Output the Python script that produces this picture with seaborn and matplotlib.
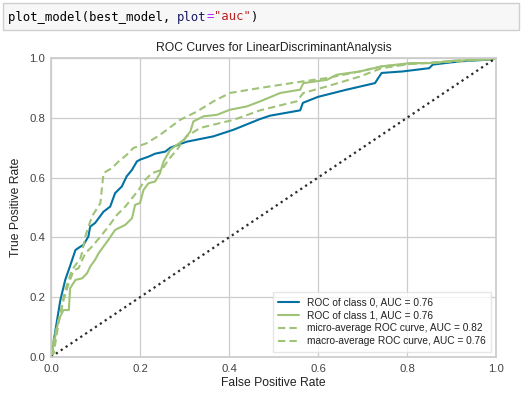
import numpy as np
import pandas as pd
import seaborn as sns
import matplotlib.pyplot as plt
from matplotlib.patches import Rectangle

# ROC curve points (false positive rate, true positive rate)
class0_fpr = [0.0, 0.002, 0.01, 0.021, 0.032, 0.043, 0.055, 0.066, 0.073, 0.084, 0.088, 0.099,
              0.118, 0.133, 0.144, 0.159, 0.17, 0.182, 0.193, 0.2, 0.219, 0.234, 0.257, 0.268,
              0.305, 0.365, 0.41, 0.47, 0.492, 0.56, 0.566, 0.6, 0.664, 0.728, 0.743, 0.79,
              0.85, 0.858, 0.92, 0.99, 1.0]
class0_tpr = [0.0, 0.013, 0.09, 0.19, 0.258, 0.305, 0.358, 0.369, 0.375, 0.403, 0.436, 0.448,
              0.486, 0.503, 0.548, 0.57, 0.604, 0.626, 0.654, 0.66, 0.67, 0.68, 0.687, 0.70,
              0.72, 0.738, 0.76, 0.796, 0.807, 0.825, 0.85, 0.87, 0.894, 0.916, 0.95, 0.955,
              0.966, 0.978, 0.989, 0.995, 1.0]

class1_fpr = [0.0, 0.002, 0.017, 0.028, 0.04, 0.043, 0.055, 0.07, 0.081, 0.088, 0.099, 0.107,
              0.129, 0.144, 0.167, 0.182, 0.189, 0.2, 0.208, 0.219, 0.234, 0.245, 0.253, 0.268,
              0.298, 0.313, 0.32, 0.343, 0.373, 0.402, 0.44, 0.47, 0.515, 0.56, 0.567, 0.62,
              0.642, 0.694, 0.743, 0.807, 0.859, 0.904, 0.993, 1.0]
class1_tpr = [0.0, 0.013, 0.124, 0.157, 0.157, 0.23, 0.258, 0.263, 0.28, 0.302, 0.325, 0.347,
              0.392, 0.425, 0.442, 0.464, 0.509, 0.515, 0.559, 0.581, 0.587, 0.615, 0.654, 0.693,
              0.726, 0.754, 0.788, 0.805, 0.81, 0.827, 0.838, 0.855, 0.883, 0.894, 0.916, 0.927,
              0.944, 0.955, 0.972, 0.983, 0.983, 0.991, 0.995, 1.0]

micro_fpr = [0.0, 0.006, 0.021, 0.032, 0.047, 0.066, 0.07, 0.077, 0.092, 0.111, 0.118, 0.137,
             0.152, 0.17, 0.185, 0.215, 0.245, 0.29, 0.328, 0.365, 0.402, 0.47, 0.567, 0.62,
             0.694, 0.743, 0.807, 0.92, 1.0]
micro_tpr = [0.0, 0.057, 0.146, 0.224, 0.291, 0.33, 0.35, 0.403, 0.47, 0.515, 0.615, 0.632,
             0.654, 0.676, 0.699, 0.715, 0.743, 0.793, 0.821, 0.855, 0.883, 0.90, 0.922, 0.933,
             0.955, 0.972, 0.98, 0.989, 1.0]

macro_fpr = [0.0, 0.006, 0.017, 0.028, 0.04, 0.051, 0.062, 0.077, 0.092, 0.114, 0.129, 0.148,
             0.167, 0.182, 0.197, 0.212, 0.227, 0.249, 0.264, 0.283, 0.305, 0.335, 0.365, 0.41,
             0.47, 0.552, 0.567, 0.62, 0.694, 0.743, 0.807, 1.0]
macro_tpr = [0.0, 0.012, 0.113, 0.19, 0.247, 0.29, 0.297, 0.347, 0.369, 0.408, 0.436, 0.475,
             0.503, 0.531, 0.559, 0.593, 0.615, 0.626, 0.66, 0.693, 0.738, 0.766, 0.777, 0.793,
             0.825, 0.855, 0.883, 0.905, 0.938, 0.966, 0.98, 1.0]

curve_names = ["ROC of class 0, AUC = 0.76", "ROC of class 1, AUC = 0.76",
               "micro-average ROC curve, AUC = 0.82", "macro-average ROC curve, AUC = 0.76"]

rows = []
for name, fpr, tpr in zip(curve_names, [class0_fpr, class1_fpr, micro_fpr, macro_fpr],
                          [class0_tpr, class1_tpr, micro_tpr, macro_tpr]):
    for a, b in zip(fpr, tpr):
        rows.append({"curve": name, "fpr": a, "tpr": b})
df = pd.DataFrame(rows)

sns.set_theme(style="whitegrid")
plt.rcParams["font.family"] = ["Liberation Sans", "DejaVu Sans"]

W, H = 521, 399
fig = plt.figure(figsize=(W / 100, H / 100), dpi=100)

# notebook code cell above the chart
fig.patches.append(Rectangle((3 / W, 1 - 30 / H), 516 / W, 27 / H, transform=fig.transFigure,
                             facecolor="#f7f7f7", edgecolor="#cfcfcf", linewidth=1))
code_parts = [("plot_model(best_model, ", "#000000"), ("plot", "#1a1a60"), ("=", "#aa22ff"),
              ("\"auc\"", "#ba2121"), (")", "#000000")]
cx = 8
for txt, col in code_parts:
    fig.text(cx / W, 1 - 17 / H, txt, family="DejaVu Sans Mono", fontsize=8.8, color=col,
             va="center", ha="left")
    cx += len(txt) * 7.35

ax = fig.add_axes([51 / W, 1 - 357 / H, 445 / W, 299 / H])
palette = {curve_names[0]: "#0272a2", curve_names[1]: "#9fc377",
           curve_names[2]: "#9fc377", curve_names[3]: "#9fc377"}
dashes = {curve_names[0]: "", curve_names[1]: "", curve_names[2]: (3.5, 2), curve_names[3]: (3.5, 2)}
sns.lineplot(data=df, x="fpr", y="tpr", hue="curve", style="curve", hue_order=curve_names,
             style_order=curve_names, palette=palette, dashes=dashes, sort=False,
             estimator=None, linewidth=1.5, ax=ax)
ax.plot([0, 1], [0, 1], linestyle=":", color="#2b2b2b", linewidth=1.6)

ax.set_xlim(0, 1)
ax.set_ylim(0, 1)
ax.set_xticks([0, 0.2, 0.4, 0.6, 0.8, 1.0])
ax.set_yticks([0, 0.2, 0.4, 0.6, 0.8, 1.0])
ax.tick_params(labelsize=8.2, colors="#444444", length=0)
ax.tick_params(axis="x", pad=5)
ax.tick_params(axis="y", pad=4.3)
ax.set_title("ROC Curves for LinearDiscriminantAnalysis", fontsize=8.7, color="#222222", pad=5)
ax.set_xlabel("False Positive Rate", fontsize=8.7, color="#222222", labelpad=2)
ax.set_ylabel("True Positive Rate", fontsize=8.7, color="#222222", labelpad=5)
for s in ax.spines.values():
    s.set_color("#cccccc")
ax.grid(color="#cccccc", linewidth=0.9)

leg = ax.legend(loc="lower right", fontsize=7.25, frameon=True, borderpad=0.55,
                handlelength=2.0, handletextpad=0.8, labelspacing=0.3, fancybox=False)
leg.get_frame().set_edgecolor("#e0e0e0")
leg.get_frame().set_facecolor("white")
for t in leg.get_texts():
    t.set_color("#222222")

fig.savefig("out.png", dpi=100)
